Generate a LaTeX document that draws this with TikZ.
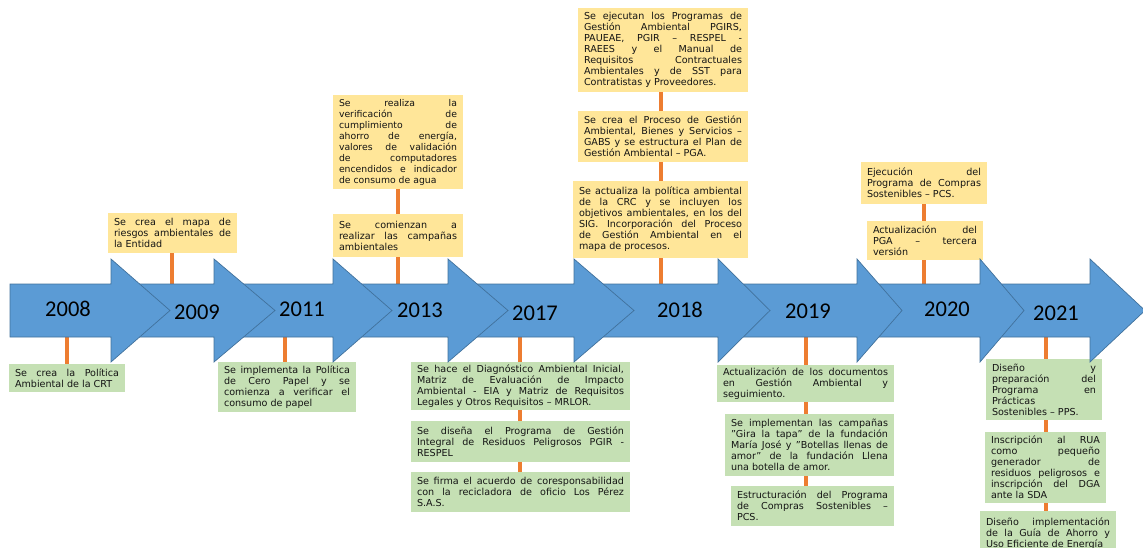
\documentclass[tikz,border=0pt]{standalone}
\usepackage{fontspec}
\setmainfont{DejaVu Sans}
\newfontfamily\yearfont{Carlito}
\definecolor{arrfill}{HTML}{5B9BD5}
\definecolor{arrline}{HTML}{41719C}
\definecolor{orng}{HTML}{ED7D31}
\definecolor{yel}{HTML}{FFE699}
\definecolor{grn}{HTML}{C5E0B4}
\definecolor{txt}{HTML}{141414}
\newcommand\boxfont[1]{\fontsize{#1}{11}\selectfont\tolerance=10000 \pretolerance=-1 \hbadness=10000 \hyphenpenalty=10000 \exhyphenpenalty=10000 \parindent=0pt }
\tikzset{
  tbox/.style={inner xsep=6pt, inner ysep=0pt, align=justify, text=txt, font=\boxfont{9.6}},
  ybox/.style={tbox, fill=yel},
  gbox/.style={tbox, fill=grn},
  oline/.style={draw=orng, line width=3.4pt},
  arr/.style={fill=arrfill, draw=arrline, line width=0.7pt, line join=miter},
  yearlbl/.style={font=\yearfont\fontsize{22.5}{27}\selectfont, text=black, inner sep=0pt}
}
\newcommand\blockarrow[3]{%
  \draw[arr] (#1,284) -- (#2,284) -- (#2,259) -- (#3,310.5) -- (#2,362) -- (#2,337) -- (#1,337) -- cycle;}
\begin{document}
\begin{tikzpicture}[x=1pt,y=-1pt]
\useasboundingbox (0,0) rectangle (1143,548);
\clip (0,0) rectangle (1143,548);

% attachment points on the timeline
\coordinate (u2009) at (172,284);
\coordinate (u2013) at (398,284);
\coordinate (u2018) at (661,284);
\coordinate (u2020) at (924,284);
\coordinate (d2008) at (67,337);
\coordinate (d2011) at (285,337);
\coordinate (d2017) at (520,337);
\coordinate (d2019) at (806,337);
\coordinate (d2021) at (1046,337);

% top boxes
\node[ybox, minimum width=170pt, minimum height=84pt, text width=158pt] (t1) at (663,50)
 {Se ejecutan los Programas de\linebreak Gestión Ambiental PGIRS,\linebreak PAUEAE, PGIR – RESPEL -\linebreak RAEES y el Manual de\linebreak Requisitos Contractuales\linebreak Ambientales y de SST para\linebreak Contratistas y Proveedores.};
\node[ybox, minimum width=170pt, minimum height=51pt, text width=158pt] (t2) at (663,136.5)
 {Se crea el Proceso de Gestión\linebreak Ambiental, Bienes y Servicios –\linebreak GABS y se estructura el Plan de\linebreak Gestión Ambiental – PGA.};
\node[ybox, minimum width=175pt, minimum height=77pt, text width=163pt] (t3) at (660.5,219.5)
 {Se actualiza la política ambiental\linebreak de la CRC y se incluyen los\linebreak objetivos ambientales, en los del\linebreak SIG. Incorporación del Proceso\linebreak de Gestión Ambiental en el\linebreak mapa de procesos.};
\node[ybox, minimum width=130pt, minimum height=94pt, text width=118pt, font=\boxfont{9.3}] (t4) at (398,142)
 {Se realiza la\linebreak verificación de\linebreak cumplimiento de\linebreak ahorro de energía,\linebreak valores de validación\linebreak de computadores\linebreak encendidos e indicador\linebreak de consumo de agua};
\node[ybox, minimum width=130pt, minimum height=43pt, text width=118pt] (t5) at (398,235.5)
 {Se comienzan a\linebreak realizar las campañas\linebreak ambientales};
\node[ybox, minimum width=129pt, minimum height=40pt, text width=117pt] (t6) at (172.5,233)
 {Se crea el mapa de\linebreak riesgos ambientales de\linebreak la Entidad};
\node[ybox, minimum width=126pt, minimum height=42pt, text width=114pt] (t7) at (924,183)
 {Ejecución del\linebreak Programa de Compras\linebreak Sostenibles – PCS.};
\node[ybox, minimum width=116pt, minimum height=39pt, text width=104pt] (t8) at (925,240.5)
 {Actualización del\linebreak PGA – tercera\linebreak versión};

% bottom boxes
\node[gbox, minimum width=116pt, minimum height=28pt, text width=104pt] (b1) at (67,378)
 {Se crea la Política\linebreak Ambiental de la CRT};
\node[gbox, minimum width=138pt, minimum height=50pt, text width=126pt] (b2) at (287,387)
 {Se implementa la Política\linebreak de Cero Papel y se\linebreak comienza a verificar el\linebreak consumo de papel};
\node[gbox, minimum width=219pt, minimum height=48pt, text width=207pt] (b3) at (520.5,386)
 {Se hace el Diagnóstico Ambiental Inicial,\linebreak Matriz de Evaluación de Impacto\linebreak Ambiental - EIA y Matriz de Requisitos\linebreak Legales y Otros Requisitos – MRLOR.};
\node[gbox, minimum width=219pt, minimum height=41pt, text width=207pt] (b4) at (520.5,441.5)
 {Se diseña el Programa de Gestión\linebreak Integral de Residuos Peligrosos PGIR -\linebreak RESPEL};
\node[gbox, minimum width=219pt, minimum height=40pt, text width=207pt] (b5) at (520.5,492)
 {Se firma el acuerdo de coresponsabilidad\linebreak con la recicladora de oficio Los Pérez\linebreak S.A.S.};
\node[gbox, minimum width=177pt, minimum height=37pt, text width=165pt] (b6) at (805.5,383.5)
 {Actualización de los documentos\linebreak en Gestión Ambiental y\linebreak seguimiento.};
\node[gbox, minimum width=169pt, minimum height=62pt, text width=157pt] (b7) at (809.5,445)
 {Se implementan las campañas\linebreak "Gira la tapa" de la fundación\linebreak María José y "Botellas llenas de\linebreak amor" de la fundación Llena\linebreak una botella de amor.};
\node[gbox, minimum width=163pt, minimum height=40pt, text width=151pt] (b8) at (812.5,506)
 {Estructuración del Programa\linebreak de Compras Sostenibles –\linebreak PCS.};
\node[gbox, minimum width=116pt, minimum height=61pt, text width=104pt] (b9) at (1044,389.5)
 {Diseño y\linebreak preparación del\linebreak Programa en\linebreak Prácticas\linebreak Sostenibles – PPS.};
\node[gbox, minimum width=121pt, minimum height=71pt, text width=109pt] (b10) at (1045.5,467.5)
 {Inscripción al RUA\linebreak como pequeño\linebreak generador de\linebreak residuos peligrosos e\linebreak inscripción del DGA\linebreak ante la SDA};
\node[gbox, minimum width=136pt, minimum height=45pt, text width=124pt] (b11) at (1048,533.5)
 {Diseño implementación\linebreak de la Guía de Ahorro y\linebreak Uso Eficiente de Energía};

% orange connectors
\draw[oline] (t6.south -| u2009) -- (u2009);
\draw[oline] (t4.south -| u2013) -- (t5.north -| u2013);
\draw[oline] (t5.south -| u2013) -- (u2013);
\draw[oline] (t1.south -| u2018) -- (t2.north -| u2018);
\draw[oline] (t2.south -| u2018) -- (t3.north -| u2018);
\draw[oline] (t3.south -| u2018) -- (u2018);
\draw[oline] (t7.south -| u2020) -- (t8.north -| u2020);
\draw[oline] (t8.south -| u2020) -- (u2020);
\draw[oline] (d2008) -- (b1.north -| d2008);
\draw[oline] (d2011) -- (b2.north -| d2011);
\draw[oline] (d2017) -- (b3.north -| d2017);
\draw[oline] (b3.south -| d2017) -- (b4.north -| d2017);
\draw[oline] (b4.south -| d2017) -- (b5.north -| d2017);
\draw[oline] (d2019) -- (b6.north -| d2019);
\draw[oline] (b6.south -| d2019) -- (b7.north -| d2019);
\draw[oline] (b7.south -| d2019) -- (b8.north -| d2019);
\draw[oline] (d2021) -- (b9.north -| d2021);
\draw[oline] (b9.south -| d2021) -- (b10.north -| d2021);
\draw[oline] (b10.south -| d2021) -- (b11.north -| d2021);

% timeline arrows (last first, so each head lies over the next body)
\blockarrow{980}{1090}{1145}
\blockarrow{857}{980}{1024}
\blockarrow{718}{857}{902}
\blockarrow{574}{718}{770}
\blockarrow{448}{574}{634}
\blockarrow{333}{448}{508}
\blockarrow{214}{333}{392}
\blockarrow{111}{214}{275}
\blockarrow{10}{111}{170}

% year labels
\node[yearlbl] (y2008) at (68,309) {2008};
\node[yearlbl] (y2009) at (197,312) {2009};
\node[yearlbl] (y2011) at (302,309) {2011};
\node[yearlbl] (y2013) at (420,310) {2013};
\node[yearlbl] (y2017) at (535,313) {2017};
\node[yearlbl] (y2018) at (680,310) {2018};
\node[yearlbl] (y2019) at (808,311) {2019};
\node[yearlbl] (y2020) at (947,309) {2020};
\node[yearlbl] (y2021) at (1056,313) {2021};
\end{tikzpicture}
\end{document}
